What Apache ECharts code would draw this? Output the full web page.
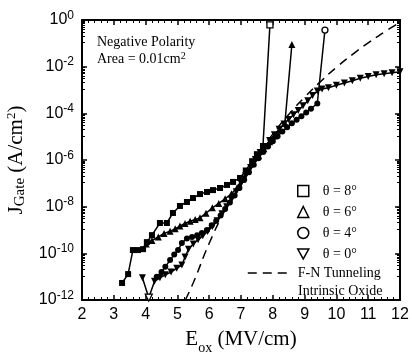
<!DOCTYPE html>
<html>
<head>
<meta charset="utf-8">
<script src="https://cdn.jsdelivr.net/npm/echarts@6/dist/echarts.min.js"></script>
<style>
  html, body { margin: 0; padding: 0; background: #fff; }
  #chart { width: 412px; height: 353px; }
</style>
</head>
<body>
<div id="chart"></div>
<script>
// [E (MV/cm), log10 J (A/cm2)]
const theta8 = [[3.26,-11.27],[3.45,-10.89],[3.6,-9.86],[3.76,-9.86],[3.92,-9.82],[4.04,-9.52],[4.2,-9.22],[4.45,-8.7],[4.67,-8.7],[4.86,-8.27],[5.08,-7.97],[5.3,-7.8],[5.49,-7.63],[5.71,-7.46],[5.93,-7.37],[6.12,-7.29],[6.34,-7.2],[6.56,-7.07],[6.75,-6.94],[6.97,-6.77],[7.15,-6.45],[7.35,-6.05],[7.5,-5.75],[7.69,-5.4],[7.91,-0.21]];
const theta6 = [[4.02,-9.6],[4.2,-9.45],[4.4,-9.3],[4.58,-9.15],[4.77,-9.05],[4.93,-8.95],[5.08,-8.83],[5.24,-8.72],[5.4,-8.62],[5.56,-8.55],[5.71,-8.48],[5.9,-8.28],[6.1,-8.05],[6.3,-7.86],[6.5,-7.66],[6.7,-7.45],[6.88,-7.18],[7.05,-6.82],[7.2,-6.48],[7.38,-6.12],[7.55,-5.82],[7.72,-5.52],[7.9,-5.22],[8.05,-4.97],[8.2,-4.72],[8.38,-4.42],[8.6,-1.05]];
const theta4 = [[4.35,-11.0],[4.5,-10.8],[4.62,-10.58],[4.77,-10.29],[4.9,-10.05],[5.02,-9.86],[5.14,-9.56],[5.3,-9.36],[5.46,-9.3],[5.62,-9.22],[5.77,-9.13],[5.93,-9.0],[6.08,-8.8],[6.22,-8.6],[6.36,-8.38],[6.5,-8.1],[6.65,-7.82],[6.8,-7.52],[6.95,-7.2],[7.1,-6.85],[7.25,-6.52],[7.4,-6.2],[7.55,-5.92],[7.7,-5.66],[7.85,-5.42],[8.0,-5.2],[8.15,-4.98],[8.3,-4.78],[8.45,-4.6],[8.6,-4.43],[8.75,-4.27],[8.9,-4.12],[9.05,-3.96],[9.2,-3.8],[9.4,-3.58],[9.64,-0.43]];
const theta0 = [[3.9,-11.05],[4.1,-11.9],[4.28,-11.2],[4.45,-11.05],[4.62,-10.92],[4.8,-10.8],[4.98,-10.64],[5.14,-10.5],[5.24,-10.16],[5.35,-9.82],[5.5,-9.6],[5.65,-9.42],[5.8,-9.25],[5.95,-9.06],[6.1,-8.85],[6.25,-8.6],[6.4,-8.3],[6.55,-8.0],[6.7,-7.7],[6.85,-7.36],[7.0,-7.0],[7.15,-6.66],[7.3,-6.32],[7.45,-5.98],[7.6,-5.68],[7.75,-5.42],[7.9,-5.16],[8.05,-4.92],[8.2,-4.68],[8.35,-4.46],[8.5,-4.26],[8.65,-4.06],[8.8,-3.88],[8.95,-3.68],[9.1,-3.46],[9.25,-3.24],[9.4,-3.04],[9.55,-2.96],[9.75,-2.9],[10.0,-2.8],[10.25,-2.7],[10.5,-2.6],[10.75,-2.5],[11.0,-2.42],[11.25,-2.35],[11.5,-2.3],[11.75,-2.26],[12.0,-2.22]];
const fnTunneling = [[5.25,-12.0],[5.5,-11.26],[6.0,-9.57],[6.5,-8.14],[7.0,-6.9],[7.5,-5.83],[8.0,-4.89],[8.5,-4.05],[9.0,-3.31],[9.5,-2.64],[10.0,-2.03],[10.5,-1.48],[11.0,-0.98],[11.5,-0.52],[12.0,-0.1]];

const seriesNames = ['θ = 8°', 'θ = 6°', 'θ = 4°', 'θ = 0°'];
const fnName = 'F-N Tunneling';
const downTri = 'path://M0,0L10,0L5,9Z';

const serif = 'Liberation Serif';
const sans = 'Liberation Sans';

var chart = echarts.init(document.getElementById('chart'));

const openPt = { color: '#fff', borderColor: '#000', borderWidth: 1.3 };
const toPts = (arr, openIdx) => arr.map((p, i) => {
  const item = { value: [p[0], Math.pow(10, p[1])] };
  if (openIdx.indexOf(i) >= 0) item.itemStyle = openPt;
  return item;
});

const dataSeries = (name, arr, symbol, size, openIdx, rot) => ({
  name: name,
  type: 'line',
  data: toPts(arr, openIdx),
  symbol: symbol,
  symbolSize: size,
  symbolRotate: rot || 0,
  showAllSymbol: true,
  itemStyle: { color: '#000', borderColor: '#000', borderWidth: 0 },
  lineStyle: { color: '#000', width: 1.5 },
  z: 3
});

const minorX = { show: true, splitNumber: 5, length: 3, lineStyle: { color: '#000', width: 1 } };
const minorY = { show: true, splitNumber: 10, length: 3, lineStyle: { color: '#000', width: 1 } };
const axisCommon = {
  axisLine: { lineStyle: { color: '#000', width: 2 } },
  axisTick: { inside: true, length: 5, lineStyle: { color: '#000', width: 1.5 } },
  splitLine: { show: false }
};

chart.setOption({
  animation: false,
  title: {
    text: 'Negative Polarity\nArea = 0.01cm{p|2}',
    left: 97,
    top: 34,
    padding: 0,
    textStyle: {
      fontFamily: serif, fontSize: 14, fontWeight: 'normal', color: '#000', lineHeight: 17,
      rich: { p: { fontFamily: serif, fontSize: 10, verticalAlign: 'top', lineHeight: 12 } }
    }
  },
  grid: { left: 82, right: 12, top: 20, bottom: 53, containLabel: false, outerBoundsMode: 'none' },
  legend: [{
    data: [
      { name: seriesNames[0], icon: 'rect' },
      { name: seriesNames[1], icon: 'triangle' },
      { name: seriesNames[2], icon: 'circle' },
      { name: seriesNames[3], icon: downTri }
    ],
    orient: 'vertical',
    left: 297,
    top: 184,
    itemWidth: 11,
    itemHeight: 11,
    itemGap: 7,
    padding: 0,
    selectedMode: false,
    itemStyle: { color: '#fff', borderColor: '#000', borderWidth: 1.5 },
    textStyle: { fontFamily: serif, fontSize: 14, lineHeight: 14, color: '#000', padding: [0, 0, 0, 9] }
  }, {
    data: [fnName],
    left: 247,
    top: 266,
    itemWidth: 40,
    itemHeight: 10,
    padding: 0,
    selectedMode: false,
    itemStyle: { color: 'rgba(0,0,0,0)', borderWidth: 0 },
    lineStyle: { color: '#000', width: 1.5, type: [9, 6] },
    textStyle: { fontFamily: serif, fontSize: 14, color: '#000', padding: [0, 0, 0, 5] }
  }],
  graphic: [{
    type: 'text',
    left: 298,
    top: 284,
    style: { text: 'Intrinsic Oxide', font: '14px "Liberation Serif"', fill: '#000' }
  }],
  xAxis: [Object.assign({
    type: 'value',
    min: 2,
    max: 12,
    interval: 1,
    axisLabel: { fontFamily: sans, fontSize: 16, color: '#000', margin: 7 },
    name: 'E{s|ox} (MV/cm)',
    nameLocation: 'middle',
    nameGap: 29,
    nameTextStyle: {
      fontFamily: serif, fontSize: 21, color: '#000',
      rich: { s: { fontFamily: serif, fontSize: 14, verticalAlign: 'bottom', padding: [0, 0, -5, 0] } }
    }
  }, axisCommon, { minorTick: minorX }), Object.assign({
    type: 'value',
    position: 'top',
    min: 2,
    max: 12,
    interval: 1,
    axisLabel: { show: false }
  }, axisCommon, { minorTick: minorX })],
  yAxis: [Object.assign({
    type: 'log',
    min: 1e-12,
    max: 1,
    interval: 2,
    axisLabel: {
      fontFamily: sans, fontSize: 16, color: '#000', margin: 8,
      formatter: (v) => '{b|10}{e|' + Math.round(Math.log10(v)) + '}',
      rich: {
        b: { fontFamily: sans, fontSize: 16, color: '#000' },
        e: { fontFamily: sans, fontSize: 12, color: '#000', verticalAlign: 'top', padding: [0, 0, 9, 0] }
      }
    },
    name: '{a|J}{s|Gate}{a| (A/cm}{p|2}{a|)}',
    nameLocation: 'middle',
    nameRotate: 90,
    nameGap: 52,
    nameTextStyle: {
      color: '#000',
      rich: {
        a: { fontFamily: serif, fontSize: 21, color: '#000' },
        s: { fontFamily: serif, fontSize: 15, color: '#000', padding: [0, 0, -7, 0] },
        p: { fontFamily: serif, fontSize: 13, color: '#000', padding: [0, 0, 11, 0] }
      }
    }
  }, axisCommon, { minorTick: minorY }), Object.assign({
    type: 'log',
    position: 'right',
    min: 1e-12,
    max: 1,
    interval: 2,
    axisLabel: { show: false }
  }, axisCommon, { minorTick: minorY })],
  series: [
    dataSeries(seriesNames[0], theta8, 'rect', 6, [theta8.length - 1]),
    dataSeries(seriesNames[1], theta6, 'triangle', 7, []),
    dataSeries(seriesNames[2], theta4, 'circle', 6, [theta4.length - 1]),
    dataSeries(seriesNames[3], theta0, 'triangle', 7, [1], 180),
    {
      name: fnName,
      type: 'line',
      data: fnTunneling.map(p => [p[0], Math.pow(10, p[1])]),
      symbol: 'none',
      smooth: true,
      itemStyle: { color: '#000' },
      lineStyle: { color: '#000', width: 1.5, type: [9, 6] },
      z: 2
    }
  ]
});
</script>
</body>
</html>
